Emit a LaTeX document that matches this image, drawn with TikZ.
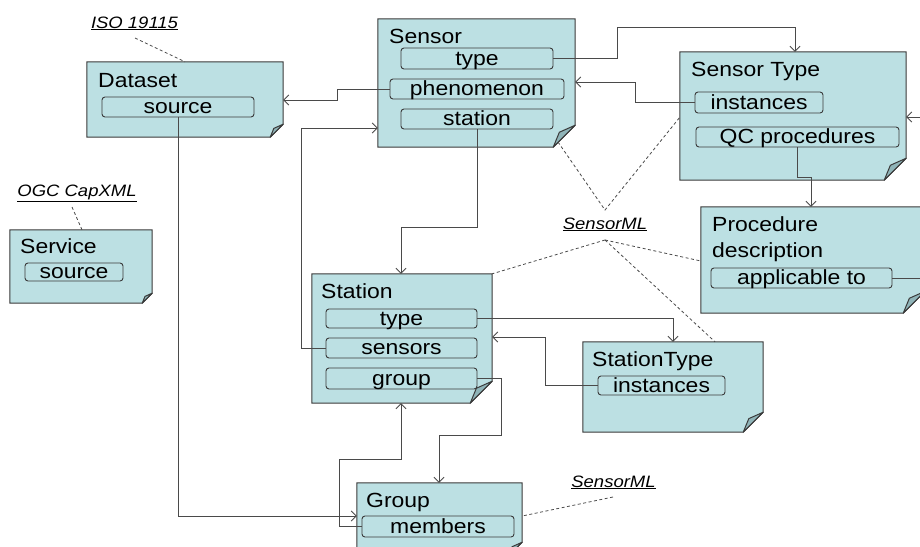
\documentclass[tikz,border=0pt]{standalone}
\usepackage{fontspec}
\setmainfont[FakeStretch=1.12]{Liberation Sans}
\usetikzlibrary{calc,fit,arrows.meta}
\definecolor{notefill}{HTML}{BCE0E3}
\definecolor{foldfill}{HTML}{8FB4B8}
\definecolor{lineclr}{HTML}{3A3A3A}
\definecolor{connclr}{HTML}{4A4A4A}
\tikzset{
  noteline/.style={draw=lineclr, line width=1pt},
  field/.style={draw=lineclr, line width=0.9pt, rounded corners=3pt, fill=notefill, inner sep=0pt,
    text height=15pt, text depth=2pt, font=\fontsize{20.5}{22}\selectfont},
  title/.style={anchor=base west, inner sep=0pt, font=\fontsize{20.5}{26}\selectfont},
  conn/.style={draw=connclr, line width=0.9pt, -{Straight Barb[length=5pt,width=10pt]}},
  connplain/.style={draw=connclr, line width=0.9pt},
  reflabel/.style={anchor=base, inner sep=0pt, font=\fontsize{16.5}{18}\selectfont\itshape},
  refline/.style={draw=connclr, line width=0.8pt, dash pattern=on 3pt off 2.5pt},
}
\newcommand{\notebox}[6]{%
  \coordinate (#1-nw) at (#2,#3);
  \coordinate (#1-se) at (#4,#5);
  \node[inner sep=0pt, fit=(#1-nw)(#1-se)] (#1) {};
  \draw[noteline, fill=notefill] (#1.north west) -- (#1.north east) -- ($(#1.south east)+(0,-#6)$)
     -- ($(#1.south east)+(-#6,0)$) -- (#1.south west) -- cycle;
  \draw[noteline, fill=foldfill, line join=round] ($(#1.south east)+(-#6,0)$)
     -- ($(#1.south east)+(-0.72*#6,-0.68*#6)$) -- ($(#1.south east)+(0,-#6)$) -- cycle;
}
\newcommand{\fieldbox}[6]{%
  \node[field, minimum width=#4-#2, minimum height=#5-#3] (#1) at ({(#2+#4)/2},{(#3+#5)/2}) {#6};
}
\begin{document}
\begin{tikzpicture}[x=1pt,y=-1pt]
\useasboundingbox (0,0) rectangle (920,546);
\clip (0,0) rectangle (920,546);

% boxes
\notebox{dataset}{87}{62}{283}{137}{13}
\notebox{sensor}{378}{19}{575}{147}{22}
\notebox{sensortype}{680}{52}{906}{180}{22}
\notebox{service}{10}{230}{152}{303}{10}
\notebox{procedure}{701}{207}{925}{313}{22}
\notebox{station}{312}{274}{492}{403}{22}
\notebox{stationtype}{583}{342}{763}{432}{20}
\notebox{group}{357}{483}{522}{556}{14}

% titles
\node[title] (dataset-t) at (98,87) {Dataset};
\node[title] (sensor-t) at (389,43) {Sensor};
\node[title] (sensortype-t) at (691,76) {Sensor Type};
\node[title] (service-t) at (20,253) {Service};
\node[title, align=left] (procedure-t) at (712,257) {Procedure\\description};
\node[title] (station-t) at (321,298) {Station};
\node[title] (stationtype-t) at (592,366) {StationType};
\node[title] (group-t) at (366,507) {Group};

% fields
\fieldbox{dataset-source}{102}{97}{254}{117}{source}
\fieldbox{sensor-type}{401}{48}{553}{69}{type}
\fieldbox{sensor-phen}{390}{79}{564}{99}{phenomenon}
\fieldbox{sensor-station}{401}{109}{553}{129}{station}
\fieldbox{st-inst}{695}{92}{823}{113}{instances}
\fieldbox{st-qc}{696}{127}{899}{147}{QC procedures}
\fieldbox{service-source}{25}{263}{123}{281}{source}
\fieldbox{proc-app}{711}{268}{892}{288}{applicable to}
\fieldbox{station-type}{326}{309}{477}{328}{type}
\fieldbox{station-sensors}{326}{338}{477}{358}{sensors}
\fieldbox{station-group}{326}{368}{477}{389}{group}
\fieldbox{stype-inst}{598}{376}{725}{395}{instances}
\fieldbox{group-members}{362}{516}{514}{537}{members}

% reference labels
\node[reflabel] (iso) at (134.5,28) {\underline{ISO 19115}};
\node[reflabel] (ogc) at (77,196) {\underline{OGC CapXML}};
\node[reflabel] (sml1) at (605,229) {\underline{SensorML}};
\node[reflabel] (sml2) at (613.5,487) {\underline{SensorML}};

\coordinate (isoA) at (135,38);
\coordinate (ogcA) at (72,207);
\coordinate (smlTop) at (605,210);
\coordinate (smlBot) at (605,240);
\coordinate (sml2A) at (613,497);
\coordinate (sensorFold) at (558,142);
\coordinate (stLeft) at (680,117);
\coordinate (offA) at (930,278);
\coordinate (offB) at (930,117);

% dashed reference lines
\draw[refline] (isoA) -- (dataset.north -| 185,0);
\draw[refline] (ogcA) -- (service.north -| 82,0);
\draw[refline] (sensorFold) -- (smlTop) -- (stLeft);
\draw[refline] (smlBot) -- (station.north east);
\draw[refline] (smlBot) -- (procedure.west |- 0,261);
\draw[refline] (smlBot) -- (stationtype.north -| 715,0);
\draw[refline] (sml2A) -- (group.east |- 0,516);

% connectors
\draw[conn] (sensor-type.east) -| (617,27) -| (sensortype.north -| 795,0);
\draw[conn] (st-inst.west) -| (635,82) -- (sensor.east |- 0,82);
\draw[conn] (sensor-phen.west) -| (337,100) -- (dataset.east |- 0,100);
\draw[conn] (station-sensors.west) -| (301,128) -- (sensor.west |- 0,128);
\draw[conn] (sensor-station.south) |- (401,227) -- (station.north -| 401,0);
\draw[conn] (station-type.east) -| (stationtype.north -| 673,0);
\draw[conn] (stype-inst.west) -| (545,337) -- (station.east |- 0,337);
\draw[conn] (station-group.east) -| (501,435) -| (group.north -| 439,0);
\draw[conn] (group-members.west) -| (339,459) -| (station.south -| 401,0);
\draw[conn] (dataset-source.south) |- (group.west |- 0,516);
\draw[conn] (st-qc.south) |- (811,177) -- (procedure.north -| 811,0);
\draw[connplain] (proc-app.east) -- (offA);
\draw[conn] (offB) -- (sensortype.east |- 0,117);
\end{tikzpicture}
\end{document}
